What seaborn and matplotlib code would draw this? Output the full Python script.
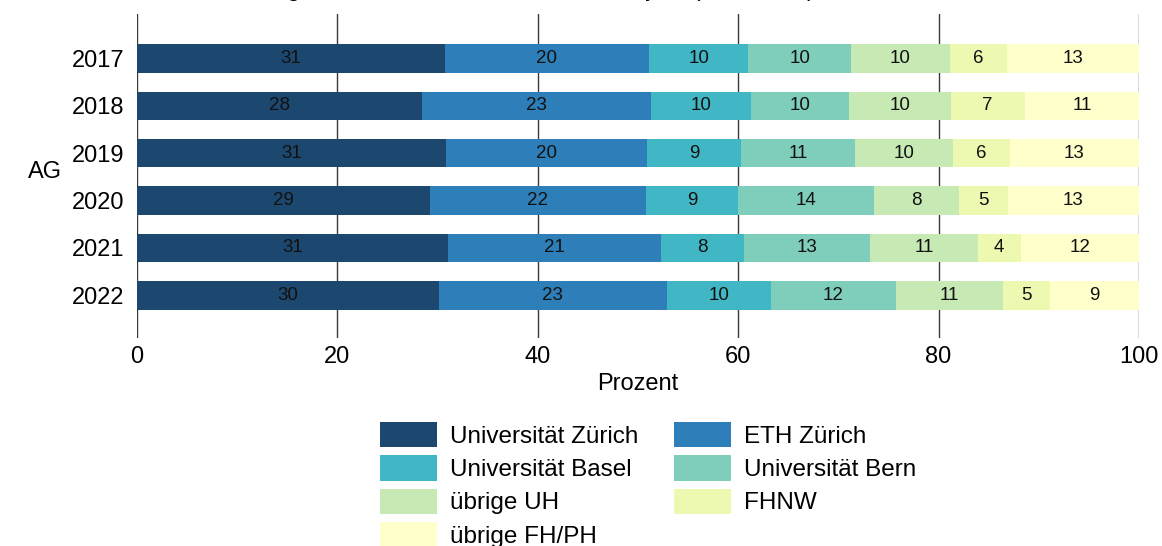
import numpy as np
import pandas as pd
import matplotlib.pyplot as plt
import seaborn as sns
from matplotlib.patches import Patch

years = ['2017', '2018', '2019', '2020', '2021', '2022']
schools = ['Universität Zürich', 'ETH Zürich', 'Universität Basel', 'Universität Bern',
           'übrige UH', 'FHNW', 'übrige FH/PH']
colors = ['#1c476f', '#2e7fb9', '#41b6c4', '#7fcdbb', '#c7e9b4', '#edf8b1', '#ffffcc']

# Anteile in Prozent, eine Liste pro Hochschule (2017..2022)
uzh = [30.7, 28.4, 30.8, 29.2, 31.0, 30.1]
eth = [20.4, 22.9, 20.1, 21.6, 21.3, 22.8]
basel = [9.9, 10.0, 9.4, 9.2, 8.3, 10.4]
bern = [10.3, 9.8, 11.4, 13.6, 12.6, 12.4]
uebrige_uh = [9.8, 10.1, 9.7, 8.4, 10.7, 10.7]
fhnw = [5.7, 7.4, 5.7, 4.9, 4.3, 4.7]
uebrige_fh = [13.2, 11.4, 12.9, 13.1, 11.8, 8.9]

values = [uzh, eth, basel, bern, uebrige_uh, fhnw, uebrige_fh]

sns.set_theme(style='white')
plt.rcParams['font.family'] = ['Liberation Sans', 'DejaVu Sans']
plt.rcParams['text.color'] = 'black'
plt.rcParams['axes.labelcolor'] = 'black'

rows = []
for school, vals in zip(schools, values):
    for year, v in zip(years, vals):
        rows.append({'year': year, 'school': school, 'value': v})
df = pd.DataFrame(rows)
df['cum'] = df.groupby('year')['value'].cumsum()
df['mid'] = df['cum'] - df['value'] / 2

fig = plt.figure(figsize=(11.62, 5.46), dpi=100)
ax = fig.add_axes([137 / 1162, 1 - 338 / 546, 1002 / 1162, 324 / 546])

# gestapelte Balken: kumulierte Summen von hinten nach vorne zeichnen
for school, col in reversed(list(zip(schools, colors))):
    sub = df[df['school'] == school]
    sns.barplot(data=sub, x='cum', y='year', order=years, orient='h', color=col,
                saturation=1, width=0.6, errorbar=None, linewidth=0, ax=ax)

for _, r in df.iterrows():
    ax.text(r['mid'], years.index(r['year']), f"{r['value']:.0f}", ha='center',
            va='center', fontsize=13.5, color='#111111')

ax.set_xlim(0, 100)
ax.set_ylim(5.9, -0.94)
ax.set_xticks([0, 20, 40, 60, 80, 100])
ax.grid(axis='x', color='#3a3a3a', linewidth=1)
ax.grid(axis='y', visible=False)
ax.set_axisbelow(True)
for s in ax.spines.values():
    s.set_visible(False)
ax.tick_params(axis='both', length=0, labelsize=17, colors='black')
ax.tick_params(axis='x', pad=5.5)
ax.tick_params(axis='y', pad=9)
ax.set_ylabel('')
ax.set_xlabel('Prozent', fontsize=17, labelpad=4)

fig.text(45 / 1162, 1 - 172 / 546, 'AG', ha='center', va='center', fontsize=17)
fig.text(20 / 1162, 1 + 4 / 546,
         'Studierende aus dem Aargau nach Hochschule und Eintrittsjahr (in Prozent)',
         ha='left', va='baseline', fontsize=17)

order = [0, 2, 4, 6, 1, 3, 5]
handles = [Patch(facecolor=colors[i], edgecolor='none') for i in order]
labels = [schools[i] for i in order]
fig.legend(handles, labels, loc='upper left', bbox_to_anchor=(380 / 1162, 1 - 422 / 546),
           ncol=2, frameon=False, fontsize=17.5, handlelength=2.35, handleheight=1.22,
           labelspacing=0.31, handletextpad=0.53, columnspacing=1.48,
           borderpad=0, borderaxespad=0)

fig.savefig('out.png', dpi=100)
